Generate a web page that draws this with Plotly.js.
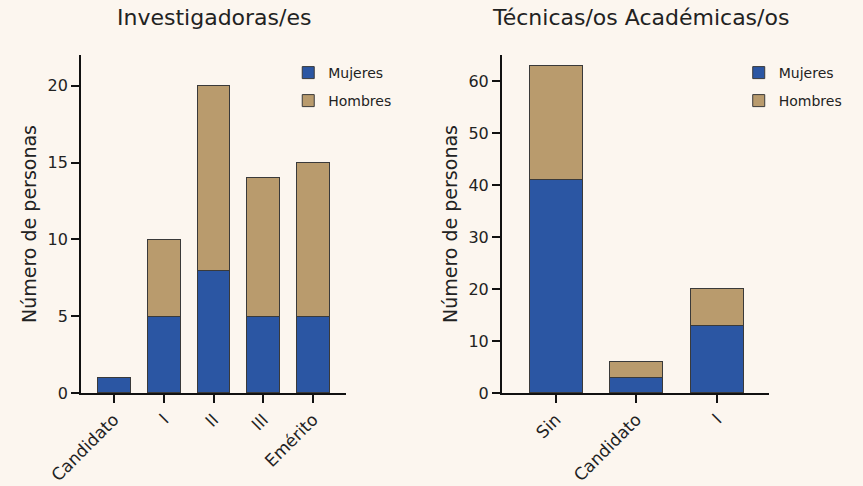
<!DOCTYPE html>
<html><head><meta charset="utf-8">
<script src="https://cdn.plot.ly/plotly-3.0.1.min.js"></script>
<style>html,body{margin:0;padding:0;background:#fcf6ef;}</style>
</head><body><div id="chart" style="width:863px;height:486px;"></div>
<script>
const catsInv = ['Candidato', 'I', 'II', 'III', 'Emérito'];
const mujeresInv = [1, 5, 8, 5, 5];
const hombresInv = [0, 5, 12, 9, 10];
const catsTec = ['Sin', 'Candidato', 'I'];
const mujeresTec = [41, 3, 13];
const hombresTec = [22, 3, 7];
const seriesNames = ['Mujeres', 'Hombres'];

const BLUE = '#2b56a3', TAN = '#b99b6d', EDGE = '#3a3a3a';
const FONT = 'DejaVu Sans, Verdana, sans-serif';

const traces = [
  {type:'bar', x:catsInv, y:mujeresInv, name:seriesNames[0], xaxis:'x', yaxis:'y', legend:'legend',
   marker:{color:BLUE, line:{color:EDGE, width:1}}, width:0.66},
  {type:'bar', x:catsInv, y:hombresInv, name:seriesNames[1], xaxis:'x', yaxis:'y', legend:'legend2',
   marker:{color:TAN, line:{color:EDGE, width:1}}, width:0.66},
  {type:'bar', x:catsTec, y:mujeresTec, name:seriesNames[0], xaxis:'x2', yaxis:'y2', legend:'legend3',
   marker:{color:BLUE, line:{color:EDGE, width:1}}, width:0.66},
  {type:'bar', x:catsTec, y:hombresTec, name:seriesNames[1], xaxis:'x2', yaxis:'y2', legend:'legend4',
   marker:{color:TAN, line:{color:EDGE, width:1}}, width:0.66}
];

const axX = {showline:true, linecolor:'#111', linewidth:2, ticks:'outside', ticklen:8, tickwidth:2, tickcolor:'#111',
  tickangle:-45, tickfont:{size:17, color:'#222'}, showgrid:false, zeroline:false};
const axY = {showline:true, linecolor:'#111', linewidth:2, ticks:'outside', ticklen:8, tickwidth:2, tickcolor:'#111',
  tickfont:{size:16, color:'#222'}, showgrid:false, zeroline:false,
  title:{text:'Número de personas', font:{size:19, color:'#222'}, standoff:6}};

const legendBase = {xanchor:'left', yanchor:'middle', bgcolor:'rgba(0,0,0,0)', font:{size:14}, tracegroupgap:0};

const layout = {
  width:863, height:486, margin:{l:0, r:0, t:0, b:0},
  paper_bgcolor:'#fcf6ef', plot_bgcolor:'rgba(0,0,0,0)',
  font:{family:FONT, color:'#222'},
  barmode:'stack', showlegend:true,
  xaxis:Object.assign({}, axX, {domain:[0.0939, 0.4009], range:[-0.66, 4.66]}),
  yaxis:Object.assign({}, axY, {domain:[0.1914, 0.8868], range:[0, 22], dtick:5, anchor:'x'}),
  xaxis2:Object.assign({}, axX, {domain:[0.5817, 0.8911], range:[-0.67, 2.65], anchor:'y2'}),
  yaxis2:Object.assign({}, axY, {domain:[0.1914, 0.8868], range:[0, 65], dtick:10, anchor:'x2'}),
  legend:Object.assign({}, legendBase, {x:0.334, y:1-73/486}),
  legend2:Object.assign({}, legendBase, {x:0.334, y:1-101/486}),
  legend3:Object.assign({}, legendBase, {x:0.856, y:1-73/486}),
  legend4:Object.assign({}, legendBase, {x:0.856, y:1-101/486}),
  annotations:[
    {text:'Investigadoras/es', x:214/863, y:1-18/486, xref:'paper', yref:'paper', showarrow:false, font:{size:22, color:'#222'}, xanchor:'center', yanchor:'middle'},
    {text:'Técnicas/os Académicas/os', x:640/863, y:1-18/486, xref:'paper', yref:'paper', showarrow:false, font:{size:22, color:'#222'}, xanchor:'center', yanchor:'middle'}
  ]
};

Plotly.newPlot('chart', traces, layout, {displayModeBar:false, staticPlot:true});
</script></body></html>
